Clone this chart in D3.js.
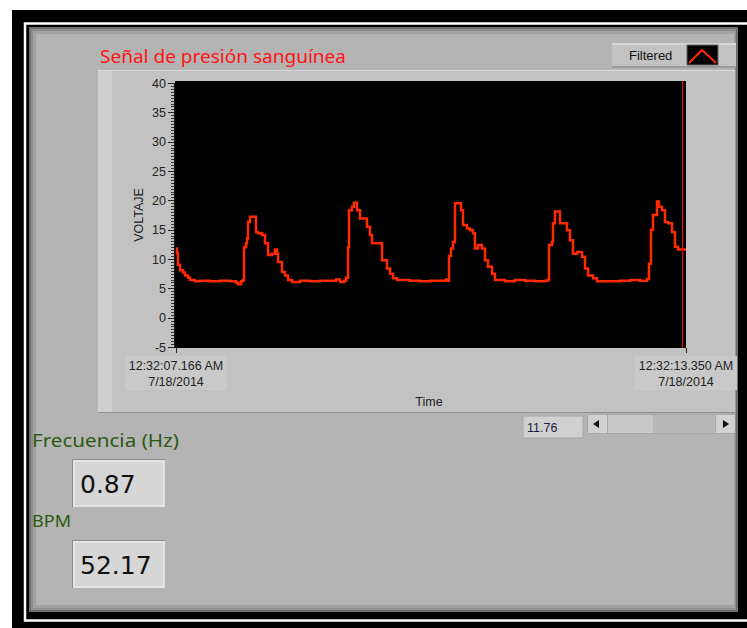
<!DOCTYPE html>
<html><head><meta charset="utf-8">
<script src="https://cdn.jsdelivr.net/npm/d3@7"></script>
<style>html,body{margin:0;padding:0;background:#fff;}svg{display:block;}</style>
</head><body>
<svg id="c" width="747" height="628"></svg>
<script>
// ---- data ----
const title = "Señal de presión sanguínea";
const seriesName = "Filtered";
const yLabel = "VOLTAJE";
const xLabel = "Time";
const startTime = "12:32:07.166 AM";
const endTime = "12:32:13.350 AM";
const dateLabel = "7/18/2014";
const timeSpan = 6.184; // seconds
const cursorTime = 6.13;
const yTicks = [-5, 0, 5, 10, 15, 20, 25, 30, 35, 40];
// time offsets (s) and voltage
const times = [0.000,0.012,0.024,0.049,0.085,0.109,0.146,0.170,0.230,0.291,0.412,0.534,0.655,0.728,0.752,0.788,0.812,0.825,0.849,0.861,0.873,0.897,0.946,0.970,0.994,1.043,1.079,1.116,1.164,1.200,1.225,1.237,1.285,1.322,1.358,1.407,1.504,1.625,1.746,1.867,1.940,1.989,2.037,2.061,2.086,2.098,2.134,2.158,2.195,2.231,2.267,2.316,2.352,2.377,2.474,2.498,2.558,2.595,2.631,2.680,2.837,2.959,3.080,3.201,3.274,3.298,3.310,3.334,3.359,3.383,3.419,3.456,3.480,3.528,3.565,3.601,3.625,3.662,3.710,3.747,3.783,3.832,3.868,3.989,4.110,4.232,4.353,4.474,4.511,4.523,4.559,4.571,4.595,4.620,4.656,4.692,4.741,4.777,4.814,4.862,4.923,4.959,4.996,5.056,5.105,5.262,5.384,5.505,5.626,5.711,5.735,5.759,5.784,5.832,5.856,5.893,5.929,5.966,6.014,6.050,6.087,6.184];
const volts = [11.8,11.0,9.0,8.1,7.7,7.2,6.8,6.4,6.2,6.3,6.2,6.3,6.2,6.0,5.7,6.2,6.4,12.0,12.7,13.5,16.3,17.2,17.2,14.6,14.4,14.1,12.7,10.7,10.9,11.6,10.9,9.5,7.8,7.2,6.4,6.1,6.3,6.2,6.3,6.3,6.5,6.1,6.3,6.8,12.0,18.3,18.9,19.6,18.3,16.9,16.9,15.5,14.1,12.7,12.7,9.8,8.4,7.5,6.7,6.4,6.3,6.2,6.3,6.3,6.5,6.3,10.5,11.8,12.9,19.5,19.5,18.3,15.8,15.2,14.9,14.4,11.8,12.4,11.8,9.8,8.7,7.5,6.4,6.2,6.4,6.3,6.2,6.3,6.5,12.4,12.9,16.1,18.1,18.1,16.1,16.1,14.9,13.2,10.9,11.2,10.4,8.4,7.2,6.7,6.2,6.2,6.3,6.4,6.3,6.6,9.2,15.0,17.5,19.8,18.9,18.3,16.3,16.1,14.6,12.1,11.6,11.6];
const indicators = [{label:"Frecuencia (Hz)", value:"0.87"},{label:"BPM", value:"52.17"}];
const scrollValue = "11.76";

// ---- drawing ----
const svg = d3.select("#c");
const F = "'Liberation Sans', Arial, sans-serif";
const FC = "'Noto Sans', 'DejaVu Sans', sans-serif";

// outer frame
svg.append("rect").attr("x",12).attr("y",10).attr("width",740).attr("height",620).attr("fill","#000");
svg.append("rect").attr("x",25).attr("y",23.5).attr("width",730).attr("height",597).attr("fill","none").attr("stroke","#fff").attr("stroke-width",2.5);
// gray panel with inner shadow
svg.append("rect").attr("x",29).attr("y",27).attr("width",709).attr("height",585).attr("fill","#6e6e6e");
svg.append("rect").attr("x",31).attr("y",29).attr("width",705).attr("height",581).attr("fill","#8c8c8c");
svg.append("rect").attr("x",33).attr("y",31).attr("width",702).attr("height",577).attr("fill","#a2a2a2");
svg.append("rect").attr("x",36).attr("y",34).attr("width",698).attr("height",571).attr("fill","#b4b4b4");

// chart panel
svg.append("rect").attr("x",98).attr("y",70).attr("width",638).attr("height",343).attr("fill","#c2c2c2");
svg.append("rect").attr("x",98).attr("y",70).attr("width",14).attr("height",343).attr("fill","#cfcfcf");
svg.append("line").attr("x1",98).attr("x2",736).attr("y1",412.5).attr("y2",412.5).attr("stroke","#8e8e8e");
svg.append("line").attr("x1",98).attr("x2",736).attr("y1",70.5).attr("y2",70.5).attr("stroke","#dadada");
svg.append("line").attr("x1",735.5).attr("x2",735.5).attr("y1",70).attr("y2",413).attr("stroke","#9a9a9a");

// title
svg.append("text").attr("x",100).attr("y",63).attr("fill","#ff1414").attr("font-family",FC).attr("font-size",18.5)
  .attr("textLength",246).attr("lengthAdjust","spacingAndGlyphs").text(title);

// legend
svg.append("rect").attr("x",612).attr("y",43).attr("width",124).attr("height",25).attr("fill","#c2c2c2");
svg.append("rect").attr("x",612).attr("y",43).attr("width",124).attr("height",2).attr("fill","#d6d6d6");
svg.append("rect").attr("x",612).attr("y",66).attr("width",124).attr("height",2).attr("fill","#9a9a9a");
svg.append("text").attr("x",629).attr("y",60).attr("font-family",F).attr("font-size",13).attr("fill","#111").text(seriesName);
svg.append("rect").attr("x",687).attr("y",45).attr("width",31).attr("height",20).attr("fill","#000").attr("stroke","#666");
svg.append("path").attr("d","M689,63 L702,50 L716,63").attr("fill","none").attr("stroke","#ff2a00").attr("stroke-width",2);

// scales
const x = d3.scaleLinear().domain([0, timeSpan]).range([176, 686]);
const y = d3.scaleLinear().domain([-5, 40]).range([347, 83]);

// plot area
svg.append("rect").attr("x",175).attr("y",81).attr("width",511).attr("height",267).attr("fill","#000");

// y axis
const minor = d3.range(-5, 40.01, 0.5);
const gy = svg.append("g").attr("transform","translate(174,0)");
gy.selectAll("line.mn").data(minor).join("line")
  .attr("x1",-3).attr("x2",0).attr("y1",d=>Math.round(y(d))+0.5).attr("y2",d=>Math.round(y(d))+0.5).attr("stroke","#333");
gy.selectAll("line.mj").data(yTicks).join("line")
  .attr("x1",-6).attr("x2",0).attr("y1",d=>Math.round(y(d))+0.5).attr("y2",d=>Math.round(y(d))+0.5).attr("stroke","#222");
gy.append("line").attr("x1",0.5).attr("x2",0.5).attr("y1",83).attr("y2",348).attr("stroke","#222");
gy.selectAll("text").data(yTicks).join("text")
  .attr("x",-8).attr("y",d=>y(d)+4.5).attr("text-anchor","end").attr("font-family",F).attr("font-size",12.5).attr("fill","#222").text(d=>d);
svg.append("text").attr("transform","translate(143,215) rotate(-90)").attr("text-anchor","middle")
  .attr("font-family",F).attr("font-size",12.5).attr("fill","#222").text(yLabel);

// x axis
[[0,startTime],[timeSpan,endTime]].forEach(([t,lab])=>{
  const px = x(t);
  svg.append("line").attr("x1",Math.round(px)+0.5).attr("x2",Math.round(px)+0.5).attr("y1",348).attr("y2",353).attr("stroke","#222");
  svg.append("rect").attr("x",px-51).attr("y",356).attr("width",102).attr("height",34).attr("fill","#c9c9c9");
  svg.append("text").attr("x",px).attr("y",370).attr("text-anchor","middle").attr("font-family",F).attr("font-size",12.5).attr("fill","#222").text(lab);
  svg.append("text").attr("x",px).attr("y",386).attr("text-anchor","middle").attr("font-family",F).attr("font-size",12.5).attr("fill","#222").text(dateLabel);
});
svg.append("text").attr("x",429).attr("y",406).attr("text-anchor","middle").attr("font-family",F).attr("font-size",12.5).attr("fill","#222").text(xLabel);

// waveform
const data = times.map((t,i)=>({t, v:volts[i]}));
svg.append("clipPath").attr("id","pc").append("rect").attr("x",175).attr("y",81).attr("width",511).attr("height",267);
svg.append("path").datum(data).attr("clip-path","url(#pc)")
  .attr("d", d3.line().x(d=>x(d.t)).y(d=>y(d.v)).curve(d3.curveStepAfter))
  .attr("fill","none").attr("stroke","#ff2a00").attr("stroke-width",2.5);
const cx = Math.round(x(cursorTime)) + 0.5;
svg.append("line").attr("x1",cx).attr("x2",cx).attr("y1",81).attr("y2",348).attr("stroke","#ff0000").attr("stroke-width",1);

// scroll box
svg.append("rect").attr("x",523).attr("y",416).attr("width",60).attr("height",22).attr("fill","#d0d0d0").attr("stroke","#a6a6a6");
svg.append("text").attr("x",527).attr("y",432).attr("font-family",F).attr("font-size",12.5).attr("fill","#1a1a40").text(scrollValue);
svg.append("rect").attr("x",587).attr("y",414).attr("width",148).attr("height",20).attr("fill","#a8a8a8");
svg.append("rect").attr("x",588).attr("y",415).attr("width",19).attr("height",18).attr("fill","#d2d2d2");
svg.append("path").attr("d","M593,424 L599,420 L599,428 Z").attr("fill","#111");
svg.append("rect").attr("x",608).attr("y",415).attr("width",45).attr("height",18).attr("fill","#c8c8c8");
svg.append("rect").attr("x",653).attr("y",415).attr("width",62).attr("height",18).attr("fill","#b8b8b8");
svg.append("rect").attr("x",716).attr("y",415).attr("width",19).attr("height",18).attr("fill","#d2d2d2");
svg.append("path").attr("d","M729,424 L723,420 L723,428 Z").attr("fill","#111");

// indicators
indicators.forEach((d,i)=>{
  const ly = i===0 ? 447 : 527;
  const by = i===0 ? 459 : 540;
  svg.append("text").attr("x",32).attr("y",ly).attr("font-family",FC).attr("font-size",i===0?18:16.5).attr("fill","#2d5a12")
    .attr("textLength", i===0?147:39).attr("lengthAdjust","spacingAndGlyphs").text(d.label);
  svg.append("rect").attr("x",72).attr("y",by).attr("width",93).attr("height",48).attr("fill","#8c8c8c");
  svg.append("rect").attr("x",73).attr("y",by+1).attr("width",92).attr("height",47).attr("fill","#e4e4e4");
  svg.append("rect").attr("x",75).attr("y",by+3).attr("width",88).attr("height",43).attr("fill","#d6d6d6");
  svg.append("text").attr("x",80).attr("y",by+34).attr("font-family","'DejaVu Sans', sans-serif").attr("font-size",25).attr("fill","#111").text(d.value);
});
</script>
</body></html>
